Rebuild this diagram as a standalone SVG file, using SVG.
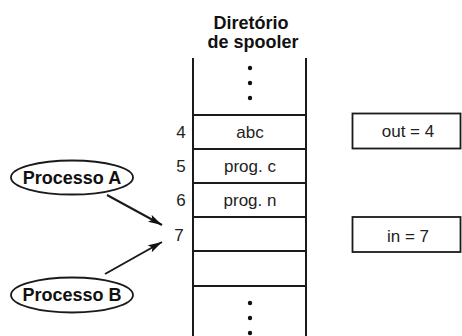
<svg xmlns="http://www.w3.org/2000/svg" width="462" height="336" viewBox="0 0 462 336">
<defs>
<style>
.ln{stroke:#1a1a1a;stroke-width:2;fill:none}
.bx{stroke:#1a1a1a;stroke-width:1.8;fill:#fff}
.t{font-family:"Liberation Sans",Arial,sans-serif;font-size:17px;fill:#222;text-anchor:middle}
.b{font-family:"Liberation Sans",Arial,sans-serif;font-size:18px;font-weight:bold;fill:#111;text-anchor:middle}
.dot{fill:#111}
</style>
<marker id="ah" viewBox="0 0 14 8" refX="14" refY="4" markerWidth="14" markerHeight="8" markerUnits="userSpaceOnUse" orient="auto">
<path d="M0,0 L14,4 L0,8 L3,4 Z" fill="#111"/>
</marker>
</defs>
<rect width="462" height="336" fill="#fff"/>
<g id="title">
<text class="b" x="251" y="29">Diretório</text>
<text class="b" x="253" y="48">de spooler</text>
</g>
<g id="spooler">
<line class="ln" x1="193" y1="58" x2="193" y2="336"/>
<line class="ln" x1="306" y1="58" x2="306" y2="336"/>
<line class="ln" x1="193" y1="115" x2="306" y2="115"/>
<line class="ln" x1="193" y1="149" x2="306" y2="149"/>
<line class="ln" x1="193" y1="183" x2="306" y2="183"/>
<line class="ln" x1="193" y1="217" x2="306" y2="217"/>
<line class="ln" x1="193" y1="251" x2="306" y2="251"/>
<line class="ln" x1="193" y1="286" x2="306" y2="286"/>
<circle class="dot" cx="250" cy="68" r="2.2"/>
<circle class="dot" cx="250" cy="83" r="2.2"/>
<circle class="dot" cx="250" cy="98" r="2.2"/>
<circle class="dot" cx="250" cy="303" r="2.2"/>
<circle class="dot" cx="250" cy="318" r="2.2"/>
<circle class="dot" cx="250" cy="333" r="2.2"/>
<text class="t" x="181" y="138">4</text>
<text class="t" x="181" y="172">5</text>
<text class="t" x="181" y="206">6</text>
<text class="t" x="179" y="241">7</text>
<text class="t" x="250" y="138">abc</text>
<text class="t" x="250" y="172">prog. c</text>
<text class="t" x="250" y="206">prog. n</text>
</g>
<g id="out">
<rect class="bx" x="352.5" y="113.5" width="108" height="35"/>
<text class="t" x="408" y="137">out = 4</text>
</g>
<g id="in">
<rect class="bx" x="352.5" y="217" width="108" height="35"/>
<text class="t" x="408" y="242">in = 7</text>
</g>
<g id="procA">
<ellipse class="bx" cx="72" cy="177.5" rx="61" ry="17"/>
<text class="b" x="72" y="184">Processo A</text>
</g>
<g id="procB">
<ellipse class="bx" cx="72" cy="295" rx="61" ry="17.5"/>
<text class="b" x="72" y="301">Processo B</text>
</g>
<g id="connectors">
<line class="ln" x1="107" y1="195" x2="162" y2="225" marker-end="url(#ah)"/>
<line class="ln" x1="105" y1="274" x2="162" y2="242" marker-end="url(#ah)"/>
</g>
</svg>
